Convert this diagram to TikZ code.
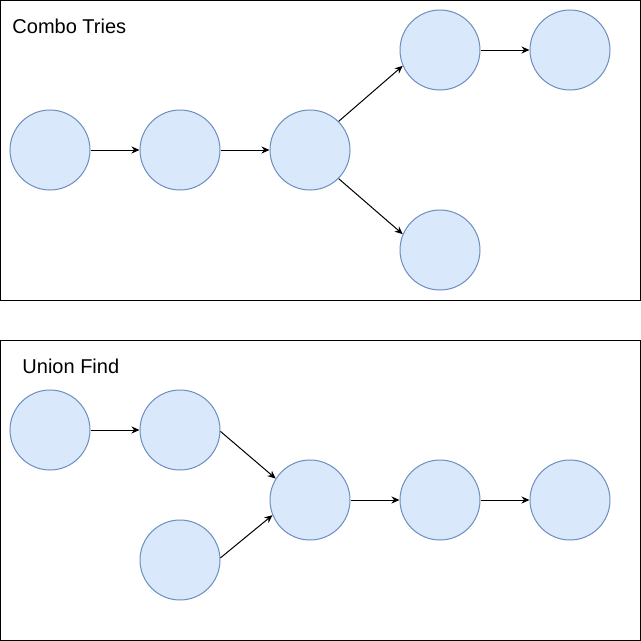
\documentclass[tikz,border=0pt]{standalone}
\usepackage{fontspec}
\setmainfont{Liberation Sans}
\usetikzlibrary{arrows.meta}
\definecolor{nodefill}{HTML}{DAE8FC}
\definecolor{nodeline}{HTML}{6C8EBF}
\begin{document}
\begin{tikzpicture}[x=1pt, y=-1pt, node distance={130pt}, line width=1pt,
    main/.style = {draw=nodeline, fill=nodefill, circle, minimum size=80pt, inner sep=0pt},
    arr/.style = {-{Stealth[length=8pt,width=7pt]}},
    title/.style = {anchor=base west, inner sep=0pt, font=\fontsize{20}{24}\selectfont}]
    \useasboundingbox (0,0) rectangle (641,641);
    % frames
    \draw (0.5,0.5) rectangle (640.5,300.5);
    \draw (0.5,340.5) rectangle (640.5,640.5);
    \node[title] (t1) at (12,33) {Combo Tries};
    \node[title] (t2) at (22,373) {Union Find};

    % combo tries
    \node[main] (c1) at (50,150) {};
    \node[main] (c2) [right of = c1] {};
    \node[main] (c3) [right of = c2] {};
    \node[main] (c4) [right of = c3, yshift=100pt] {};
    \node[main] (c5) [right of = c4] {};
    \node[main] (c6) [right of = c3, yshift=-100pt] {};

    \draw[arr] (c1) -- (c2);
    \draw[arr] (c2) -- (c3);
    \draw[arr] (c3.45) -- (c4.203);
    \draw[arr] (c4) -- (c5);
    \draw[arr] (c3.-45) -- (c6.157);

    % union find
    \node[main] (u1) at (50,430) {};
    \node[main] (u2) [right of = u1] {};
    \node[main] (u3) [right of = u2, yshift=-70pt] {};
    \node[main] (u4) [right of = u3] {};
    \node[main] (u5) [right of = u4] {};
    \node[main] (u6) [left of = u3, yshift=-60pt] {};

    \draw[arr] (u1) -- (u2);
    \draw[arr] (u2.-2) -- (u3.148);
    \draw[arr] (u6.3) -- (u3.202);
    \draw[arr] (u3) -- (u4);
    \draw[arr] (u4) -- (u5);
\end{tikzpicture}
\end{document}
